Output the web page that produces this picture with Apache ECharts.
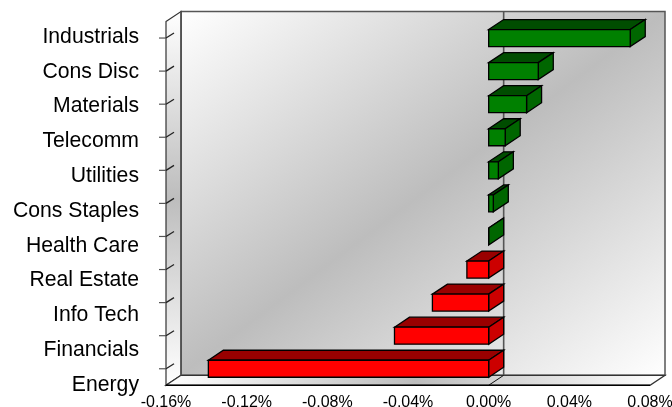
<!DOCTYPE html>
<html><head><meta charset="utf-8">
<script src="https://cdn.jsdelivr.net/npm/echarts@6/dist/echarts.min.js"></script>
<style>html,body{margin:0;padding:0;background:#fff}#c{width:672px;height:407px}</style>
</head><body><div id="c"></div>
<script>
const categories = ['Industrials','Cons Disc','Materials','Telecomm','Utilities','Cons Staples','Health Care','Real Estate','Info Tech','Financials','Energy'];
const values = [0.0702,0.0246,0.0188,0.0082,0.0048,0.0023,0,-0.0108,-0.0279,-0.0467,-0.139];
const axisMin = -0.16, axisMax = 0.08, axisStep = 0.04;
const DX = 15, DY = -10;
const FONT = '"Liberation Sans", Arial, sans-serif';
const chart = echarts.init(document.getElementById('c'), null, {renderer:'canvas'});
const grad = (x,y,x2,y2,stops) => new echarts.graphic.LinearGradient(x,y,x2,y2,stops);
const tri = [{offset:0,color:'#ffffff'},{offset:0.5,color:'#bdbdbd'},{offset:1,color:'#ffffff'}];
const poly = (pts,fill,stroke,lw) => ({type:'polygon',shape:{points:pts},style:{fill,stroke,lineWidth:lw}});
const line = (a,b,stroke,lw) => ({type:'line',shape:{x1:a[0],y1:a[1],x2:b[0],y2:b[1]},style:{stroke,lineWidth:lw,fill:null}});

function renderWalls(params, api){
  const cs = params.coordSys;
  const L = cs.x, R = cs.x+cs.width, T = cs.y, B = cs.y+cs.height;
  const z = api.coord([0,0])[0];
  const bk = (p)=>[p[0]+DX,p[1]+DY];
  const kids = [
    poly([bk([L,T]),bk([R,T]),bk([R,B]),bk([L,B])], grad(0.14,-0.14,0.86,1.14,tri), '#555', 1.5),
    poly([[L,T],bk([L,T]),bk([L,B]),[L,B]], grad(0,0,0,1,tri), '#333', 1.2),
    poly([[L,B],bk([L,B]),bk([R,B]),[R,B]], grad(0,0,1,0,tri), '#333', 1.2),
    line(bk([L,T]),bk([L,B]),'#555',1.6),
    line(bk([z,T]),bk([z,B]),'#555',1.6),
    line([z,B],bk([z,B]),'#111',1),
    line([L,B],[R,B],'#000',1.4)
  ];
  categories.forEach((c,i)=>{
    const y = api.coord([axisMin,i])[1];
    kids.push(line([L-7,y],[L,y],'#555',1.2));
    kids.push(line([L,y],[L+DX/2+0.5,y+DY/2],'#222',1.3));
  });
  return {type:'group',children:kids};
}
function renderBar(params, api){
  const v = api.value(0), i = api.value(1);
  const a = api.coord([0,i]), b = api.coord([v,i]);
  const h = 17;
  const x0 = Math.min(a[0],b[0]), x1 = Math.max(a[0],b[0]);
  const t = a[1]-h/2, u = a[1]+h/2;
  const pos = v >= 0;
  const front = pos?'#008000':'#ff0000', top = pos?'#004d00':'#990000', side = pos?'#006600':'#cc0000';
  const s = '#000';
  return {type:'group',children:[
    poly([[x0,t],[x0+DX,t+DY],[x1+DX,t+DY],[x1,t]],top,s,1.3),
    poly([[x1,t],[x1+DX,t+DY],[x1+DX,u+DY],[x1,u]],side,s,1.3),
    poly([[x0,t],[x1,t],[x1,u],[x0,u]],front,s,1.3)
  ]};
}
chart.setOption({
  animation:false,
  backgroundColor:'#fff',
  grid:[
    {left:166,right:22,top:21.5,bottom:21.7,outerBoundsMode:'none',containLabel:false},
    {left:166,right:22,top:19.6,bottom:4.6,outerBoundsMode:'none',containLabel:false}
  ],
  xAxis:[
    {type:'value',gridIndex:0,min:axisMin,max:axisMax,interval:axisStep,
     axisLine:{show:false},axisTick:{show:false},splitLine:{show:false},
     axisLabel:{margin:9,color:'#000',fontFamily:FONT,fontSize:16,showMinLabel:true,showMaxLabel:true,hideOverlap:false,
       formatter:v=>v.toFixed(2)+'%'}},
    {type:'value',gridIndex:1,show:false,min:axisMin,max:axisMax}
  ],
  yAxis:[
    {type:'category',gridIndex:0,inverse:true,data:categories,
     axisLine:{show:false},splitLine:{show:false},axisTick:{show:false},
     axisLabel:{show:false}},
    {type:'category',gridIndex:1,inverse:true,data:categories,
     axisLine:{show:false},axisTick:{show:false},splitLine:{show:false},
     axisLabel:{show:true,interval:0,margin:27,color:'#000',fontFamily:FONT,fontSize:21.2}}
  ],
  series:[
    {type:'custom',xAxisIndex:0,yAxisIndex:0,silent:true,z:1,clip:false,renderItem:renderWalls,
     data:[[0,0]],encode:{x:0,y:1}},
    {type:'custom',xAxisIndex:0,yAxisIndex:0,silent:true,z:2,clip:false,renderItem:renderBar,
     data:values.map((v,i)=>[v,i]),encode:{x:0,y:1}}
  ]
});
</script></body></html>
